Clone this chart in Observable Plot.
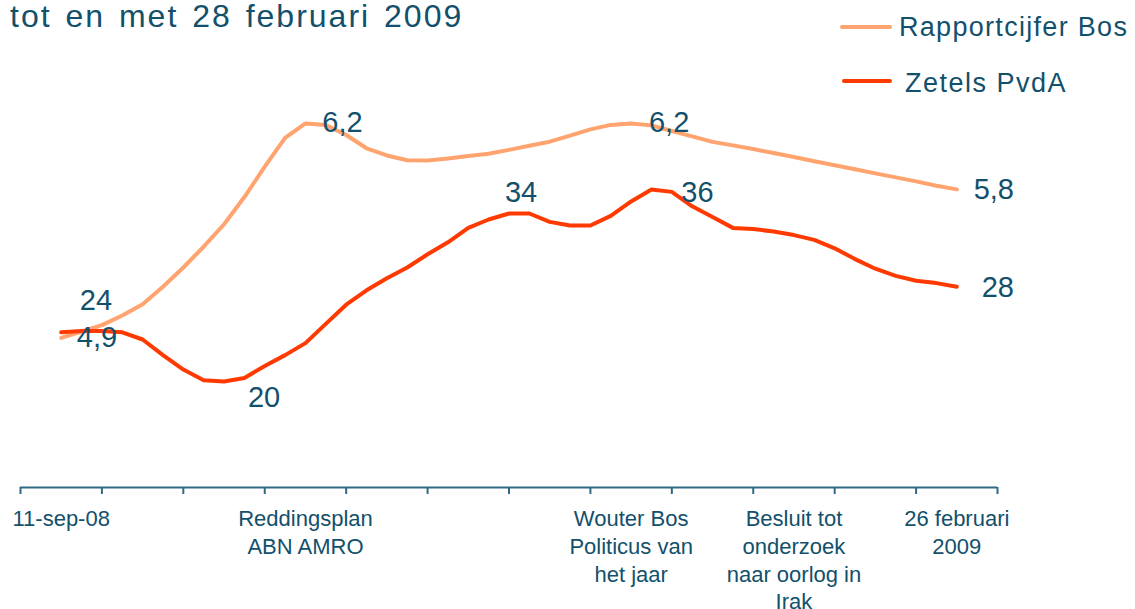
<!DOCTYPE html>
<html>
<head>
<meta charset="utf-8">
<script src="https://cdn.jsdelivr.net/npm/d3@7"></script>
<script src="https://cdn.jsdelivr.net/npm/@observablehq/plot@0.6"></script>
<style>
  html, body { margin: 0; padding: 0; background: #ffffff; }
  #wrap { position: relative; width: 1135px; height: 609px; overflow: hidden; font-family: "Liberation Sans", Arial, sans-serif; color: #12506b; }
  #header { position: relative; width: 1135px; height: 100px; }
  .abs { position: absolute; white-space: nowrap; }
  #title { left: 10px; top: 0px; font-size: 32px; line-height: 32px; letter-spacing: 2px; word-spacing: 3px; }
  .legtext { font-size: 27px; line-height: 27px; }
  .swatch { position: absolute; height: 4px; border-radius: 2px; }
</style>
</head>
<body>
<div id="wrap">
  <div id="header"></div>
  <div id="chart"></div>
</div>
<script>
// ---- data ----
const title = "tot en met 28 februari 2009";
const seriesNames = ["Rapportcijfer Bos", "Zetels PvdA"];
const seriesColors = ["#ffa36f", "#ff3a00"];

// Rapportcijfer Bos (report mark), one value per period
const rapportcijfer = [4.86, 4.90, 4.94, 5.00, 5.07, 5.18, 5.30, 5.43, 5.57, 5.74,
  5.93, 6.11, 6.200, 6.190, 6.128, 6.045, 6.000, 5.970, 5.969, 5.981,
  5.996, 6.011, 6.035, 6.061, 6.086, 6.124, 6.163, 6.191, 6.200, 6.188,
  6.153, 6.119, 6.085, 6.063, 6.040, 6.015, 5.990, 5.964, 5.939, 5.914,
  5.888, 5.863, 5.838, 5.811, 5.788];

// Zetels PvdA (seats)
const zetels = [24.1, 24.2, 24.2, 24.1, 23.5, 22.2, 21.0, 20.1, 20.0, 20.3,
  21.3, 22.2, 23.2, 24.8, 26.4, 27.6, 28.6, 29.5, 30.6, 31.6,
  32.8, 33.5, 34.0, 34.0, 33.3, 33.0, 33.0, 33.8, 35.0, 36.0,
  35.8, 34.6, 33.7, 32.8, 32.7, 32.5, 32.2, 31.8, 31.1, 30.2,
  29.4, 28.8, 28.4, 28.2, 27.9];

// x axis: tick marks and category labels (period index)
const xTicks = [-2, 2, 6, 10, 14, 18, 22, 26, 30, 34, 38, 42, 46];
const xLabelAt = [0, 12, 28, 36, 44];
const xLabels = ["11-sep-08", "Reddingsplan\nABN AMRO", "Wouter Bos\nPoliticus van\nhet jaar",
  "Besluit tot\nonderzoek\nnaar oorlog in\nIrak", "26 februari\n2009"];

// scales: primary (zetels) and secondary (rapportcijfer)
const yDomain = [11.17, 42.58];
const y2Domain = [3.925, 6.281];

// ---- build ----
const textColor = "#12506b";
const axisColor = "#2f6a84";
const r2z = d3.scaleLinear().domain(y2Domain).range(yDomain);

const rData = rapportcijfer.map((v, i) => ({i, v, y: r2z(v)}));
const zData = zetels.map((v, i) => ({i, v, y: v}));

const fmtR = v => v.toFixed(1).replace(".", ",");
const fmtZ = v => String(Math.round(v));

function label(data, i, fmt, dx, dy) {
  return Plot.text([data[i]], {x: "i", y: "y", text: d => fmt(d.v), dx, dy,
    fill: textColor, fontSize: 29, textAnchor: "middle"});
}

// header (title + legend)
const header = document.getElementById("header");
header.innerHTML = `
  <div id="title" class="abs">${title}</div>
  <div class="swatch" style="left:840px; top:25px; width:52px; background:${seriesColors[0]}"></div>
  <div class="abs legtext" style="left:899px; top:14px; letter-spacing:1.3px">${seriesNames[0]}</div>
  <div class="swatch" style="left:842px; top:79px; width:50px; background:${seriesColors[1]}"></div>
  <div class="abs legtext" style="left:905px; top:70px; letter-spacing:1.5px">${seriesNames[1]}</div>
`;

const chart = Plot.plot({
  width: 1135,
  height: 509,
  marginLeft: 20,
  marginRight: 138,
  marginTop: 10,
  marginBottom: 122,
  x: {domain: [-2, 46], axis: null, label: null},
  y: {domain: yDomain, axis: null, label: null},
  style: {fontFamily: "'Liberation Sans', Arial, sans-serif", color: textColor, overflow: "visible", background: "#ffffff"},
  marks: [
    Plot.ruleY([yDomain[0]], {stroke: axisColor, strokeWidth: 2}),
    Plot.axisX({ticks: xTicks, tickFormat: () => "", tickSize: 7, stroke: axisColor, strokeWidth: 2, label: null}),
    Plot.axisX({ticks: xLabelAt, tickSize: 0, tickPadding: 19, fontSize: 22, lineHeight: 1.26,
      fill: textColor, label: null, tickFormat: d => xLabels[xLabelAt.indexOf(d)]}),
    Plot.line(rData, {x: "i", y: "y", stroke: seriesColors[0], strokeWidth: 4}),
    Plot.line(zData, {x: "i", y: "y", stroke: seriesColors[1], strokeWidth: 4}),
    label(zData, 2, fmtZ, -6, -30),
    label(rData, 2, fmtR, -5, 13),
    label(zData, 8, fmtZ, 40, 16),
    label(rData, 12, fmtR, 37, -1),
    label(zData, 22, fmtZ, 12, -21),
    label(rData, 28, fmtR, 38, -1),
    label(zData, 29, fmtZ, 46, 3),
    label(rData, 44, fmtR, 37, 0),
    label(zData, 44, fmtZ, 41, 1)
  ]
});
document.getElementById("chart").appendChild(chart);
</script>
</body>
</html>
